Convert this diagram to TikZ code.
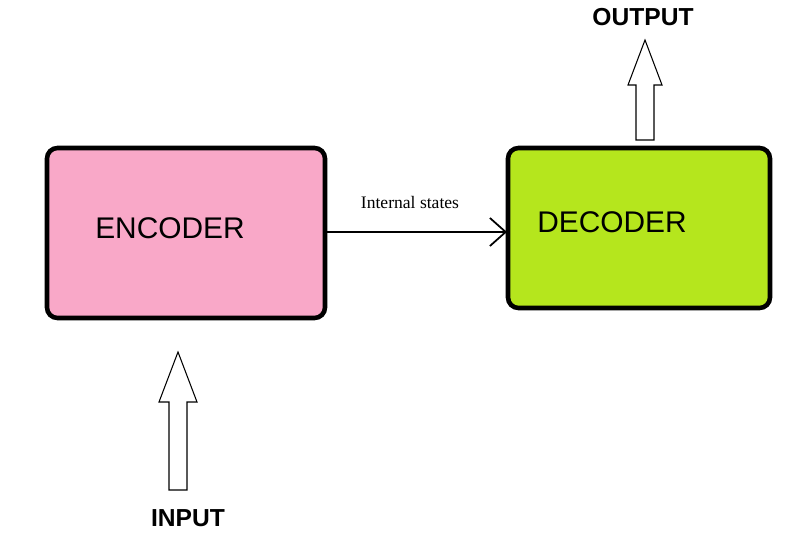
\documentclass[tikz,border=0pt]{standalone}
\usepackage{fontspec}
\setmainfont{Liberation Serif}
\setsansfont{Liberation Sans}
\usetikzlibrary{arrows.meta}
\definecolor{encpink}{HTML}{F9A8C8}
\definecolor{declime}{HTML}{B5E61D}
\begin{document}
\begin{tikzpicture}[x=0.02cm,y=-0.02cm,
  box/.style={draw=black,line width=2.6pt,rounded corners=6pt},
  lbl/.style={font=\sffamily\fontsize{17}{19}\selectfont},
  bold/.style={font=\sffamily\bfseries\fontsize{14}{16}\selectfont},
  hollow/.style={draw=black,line width=0.6pt,fill=white}]
\useasboundingbox (0,0) rectangle (800,533);
\draw[box,fill=encpink] (47,148) rectangle (325,318);
\draw[box,fill=declime] (508,148) rectangle (770,308);
\node[lbl] (enc) at (170,228) {ENCODER};
\node[lbl] (dec) at (612,222) {DECODER};
\coordinate (a) at (326,232);
\coordinate (b) at (507,232);
\draw[line width=1pt,-{Straight Barb[length=9pt,width=16pt,line width=1pt]}] (a) -- (b);
\node[font=\fontsize{10}{12}\selectfont] (is) at (410,202) {Internal states};
% output arrow
\draw[hollow] (636,140) -- (636,85) -- (628,85) -- (645,40) -- (662,85) -- (654,85) -- (654,140) -- cycle;
\node[bold] (out) at (643,17) {OUTPUT};
% input arrow
\draw[hollow] (169,490) -- (169,402) -- (159,402) -- (178,352) -- (197,402) -- (187,402) -- (187,490) -- cycle;
\node[bold] (in) at (188,518) {INPUT};
\end{tikzpicture}
\end{document}
